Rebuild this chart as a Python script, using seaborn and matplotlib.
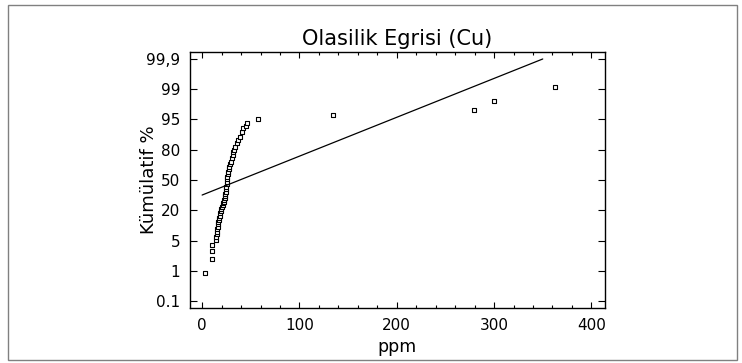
import numpy as np
import pandas as pd
import matplotlib
matplotlib.use('Agg')
import matplotlib.pyplot as plt
import seaborn as sns
from matplotlib.patches import Rectangle
from matplotlib.ticker import MultipleLocator

# values
ppm = [3.1, 10.6, 10.6, 10.6, 14.1, 14.4, 14.9, 15.4, 15.8, 16.1, 16.5, 16.8,
       17.2, 17.5, 18.0, 18.5, 19.0, 19.5, 20.3, 21.0, 21.9, 22.4, 22.9, 23.3,
       23.7, 24.0, 24.4, 24.7, 25.0, 25.2, 25.4, 25.7, 26.0, 26.5, 27.0, 27.5,
       28.1, 29.0, 29.8, 30.5, 31.3, 32.2, 33.0, 33.9, 35.7, 37.3, 39.1, 40.8,
       42.5, 45.2, 46.6, 57.3, 134.4, 279, 300, 363]
kumulatif = [0.92, 2.55, 3.65, 4.4, 5.25, 6.9, 8.1, 9.4, 10.6, 11.8, 13.0, 14.3,
             15.1, 16.0, 17.2, 18.5, 19.6, 20.9, 23.5, 25.2, 26.9, 28.5, 30.2, 32.2,
             34.1, 36.2, 38.4, 40.9, 43.4, 45.8, 48.3, 50.8, 53.3, 55.7, 58.2, 60.7,
             63.2, 65.6, 68.1, 71.4, 74.8, 78.1, 79.8, 81.5, 83.2, 84.8, 86.5, 89.0,
             90.6, 91.8, 93.1, 95.03, 95.6, 96.3, 97.4, 99.08]
fit_ppm = [0, 350]
fit_pct = [35.1, 99.9]

pct_ticks = [0.1, 1, 5, 20, 50, 80, 95, 99, 99.9]
pct_labels = ['0.1', '1', '5', '20', '50', '80', '95', '99', '99,9']

df = pd.DataFrame({'ppm': ppm, 'kum': kumulatif})
fit = pd.DataFrame({'ppm': fit_ppm, 'kum': fit_pct})

# probability axis: the labelled percentages sit at equal steps
knots_pct = [-0.8] + pct_ticks + [100.8]
knots_pos = np.arange(-1, 10)


def to_pos(p):
    return np.interp(p, knots_pct, knots_pos)


def to_pct(v):
    return np.interp(v, knots_pos, knots_pct)


sns.set_style('ticks')
plt.rcParams['font.family'] = ['DejaVu Sans']
plt.rcParams['text.color'] = 'black'
plt.rcParams['axes.labelcolor'] = 'black'

fig = plt.figure(figsize=(7.42, 3.63), dpi=100)
ax = fig.add_axes([0.256, 0.1515, 0.5594, 0.7052])
ax.set_yscale('function', functions=(to_pos, to_pct))

sns.lineplot(x='ppm', y='kum', data=fit, ax=ax, color='black', lw=0.9,
             sort=False)
sns.scatterplot(x='ppm', y='kum', data=df, ax=ax, marker='s', s=9,
                facecolor='white', edgecolor='black', linewidth=0.8)

ax.set_xlim(-12.5, 414)
ax.set_ylim(-0.107, 100.107)
ax.set_yticks(pct_ticks)
ax.set_yticklabels(pct_labels)
ax.yaxis.set_minor_locator(matplotlib.ticker.NullLocator())
ax.xaxis.set_major_locator(MultipleLocator(100))
ax.xaxis.set_minor_locator(MultipleLocator(20))

ax.tick_params(axis='both', which='both', direction='in', top=True,
               right=True, colors='black', labelsize=11)
ax.tick_params(axis='x', which='major', length=4, width=0.8, pad=7)
ax.tick_params(axis='x', which='minor', length=2.5, width=0.8)
ax.tick_params(axis='y', which='major', length=5, width=0.8, pad=7)
for sp in ax.spines.values():
    sp.set_linewidth(1.0)
    sp.set_color('black')

ax.set_xlabel('ppm', fontsize=12.5, labelpad=4)
ax.set_ylabel('Kümülatif %', fontsize=13)
ax.yaxis.set_label_coords(-0.078, 0.5)
ax.set_title('Olasilik Egrisi (Cu)', fontsize=15, pad=5)

fig.patches.append(Rectangle((0.0108, 0.0083), 0.9825, 0.9777,
                             transform=fig.transFigure, fill=False,
                             edgecolor='#808080', lw=1.0))

plt.savefig('out.png', dpi=100)
